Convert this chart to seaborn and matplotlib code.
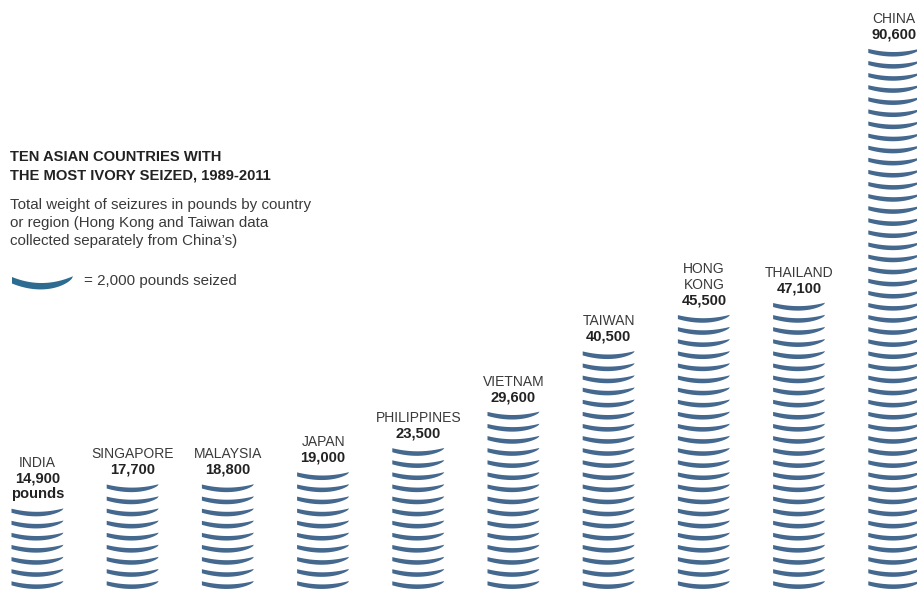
import numpy as np
import pandas as pd
import matplotlib
matplotlib.use("Agg")
import matplotlib.pyplot as plt
from matplotlib.path import Path
import seaborn as sns

# ---------------- data ----------------
countries = ["INDIA", "SINGAPORE", "MALAYSIA", "JAPAN", "PHILIPPINES",
             "VIETNAM", "TAIWAN", "HONG KONG", "THAILAND", "CHINA"]
name_labels = ["INDIA", "SINGAPORE", "MALAYSIA", "JAPAN", "PHILIPPINES",
               "VIETNAM", "TAIWAN", "HONG\nKONG", "THAILAND", "CHINA"]
pounds_seized = [14900, 17700, 18800, 19000, 23500, 29600, 40500, 45500, 47100, 90600]
value_labels = ["14,900\npounds", "17,700", "18,800", "19,000", "23,500",
                "29,600", "40,500", "45,500", "47,100", "90,600"]
pounds_per_tusk = 2000

title_lines = ["TEN ASIAN COUNTRIES WITH", "THE MOST IVORY SEIZED, 1989-2011"]
desc_lines = ["Total weight of seizures in pounds by country",
              "or region (Hong Kong and Taiwan data",
              "collected separately from China\u2019s)"]
legend_text = "= 2,000 pounds seized"

# ---------------- style ----------------
sns.set_theme(style="white")
plt.rcParams["font.family"] = ["Liberation Sans", "DejaVu Sans"]

TUSK = "#44688e"
LEGEND_TUSK = "#2e6b91"
DARK = "#222222"
MID = "#3a3a3a"

W, H = 917, 606
fig = plt.figure(figsize=(W / 100, H / 100), dpi=100)
ax = fig.add_axes([0, 0, 1, 1])

# pixel layout helpers
x0_px, dx_px = 37.5, 95.2
y0_px, dy_px = 583.0, 12.1
XLIM = (-x0_px / dx_px, (W - x0_px) / dx_px)
YLIM = (-(H - y0_px) / dy_px, y0_px / dy_px)


def tusk_path(half_w, top_l, top_m, top_r, t_l, bulge, n=48):
    xs = np.linspace(-half_w, half_w, n)
    u = (xs + half_w) / (2 * half_w)
    a = (top_l + top_r - 2 * top_m) / (2 * half_w ** 2)
    b = (top_r - top_l) / (2 * half_w)
    upper = a * xs ** 2 + b * xs + top_m
    thick = (t_l + bulge * 4 * u * (1 - u)) * np.sqrt(np.clip(1 - u ** 5, 0, 1))
    lower = upper - thick
    verts = np.vstack([np.column_stack([xs, upper]),
                       np.column_stack([xs[::-1], lower[::-1]])])
    verts = np.vstack([verts, verts[:1]])
    return Path(verts, closed=True)


stack_tusk = tusk_path(26, 1.7, -1.4, 2.0, 4.0, 0.6)

# long-form table of tusks
rows = []
for i, (c, v) in enumerate(zip(countries, pounds_seized)):
    n = int(v / pounds_per_tusk + 0.5)
    for k in range(n):
        rows.append({"country": c, "pos": i, "level": k})
df = pd.DataFrame(rows)

sns.scatterplot(data=df, x="pos", y="level", marker=stack_tusk, s=(52 * 0.72) ** 2,
                color=TUSK, edgecolor="none", linewidth=0, legend=False, ax=ax)
ax.set_xlim(*XLIM)
ax.set_ylim(*YLIM)
ax.axis("off")

# labels above stacks
for i, (v, name, val) in enumerate(zip(pounds_seized, name_labels, value_labels)):
    top = int(v / pounds_per_tusk + 0.5) - 1
    lines = [(t, "bold", DARK, 10.6) for t in val.split("\n")[::-1]] + \
            [(t, "normal", MID, 10.0) for t in name.split("\n")[::-1]]
    for j, (t, wgt, col, fsz) in enumerate(lines):
        off = 16.5 + 15.5 * j
        ax.annotate(t, xy=(i, top), xytext=(0, off * 0.72), textcoords="offset points",
                    ha="center", va="center", fontsize=fsz, fontweight=wgt, color=col)

# title block
for j, t in enumerate(title_lines):
    fig.text(10 / W, 1 - (157 + 19 * j) / H, t, ha="left", va="center",
             fontsize=10.6, fontweight="bold", color=DARK)
for j, t in enumerate(desc_lines):
    fig.text(10 / W, 1 - (205 + 18 * j) / H, t, ha="left", va="center",
             fontsize=10.9, color=MID)

# legend tusk
leg_tusk = tusk_path(30.5, 3.5, -2.5, 4.3, 6.5, 0.0)
ax.scatter([(42 - x0_px) / dx_px], [(y0_px - 279.5) / dy_px],
           marker=leg_tusk, s=(61 * 0.72) ** 2, color=LEGEND_TUSK, linewidths=0)
fig.text(84 / W, 1 - 281 / H, legend_text, ha="left", va="center", fontsize=10.9, color=MID)

fig.savefig("out.png", dpi=100, facecolor="white")
